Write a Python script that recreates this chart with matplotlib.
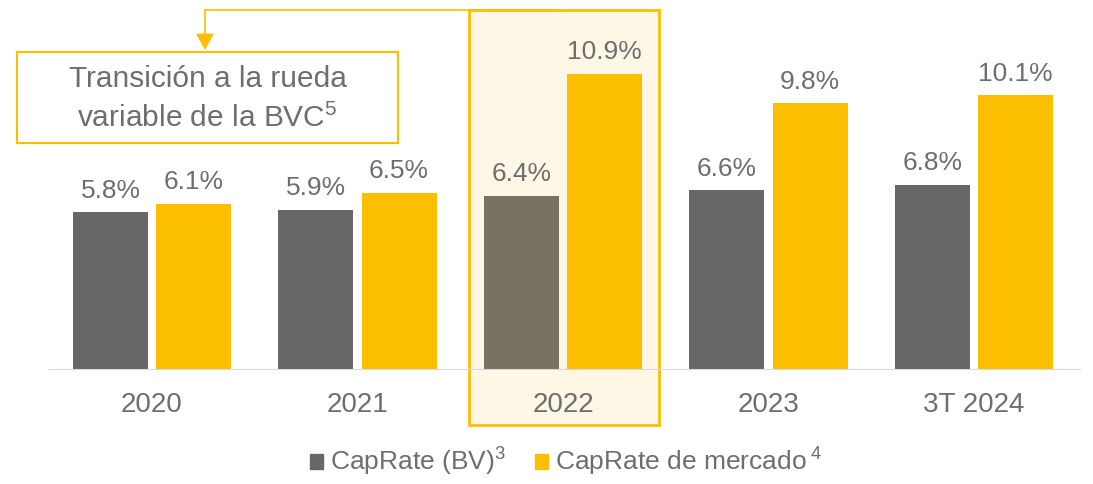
import numpy as np
import matplotlib
matplotlib.use('Agg')
import matplotlib.pyplot as plt
from matplotlib.patches import Rectangle, Patch

plt.rcParams['font.family'] = ['Liberation Sans', 'DejaVu Sans']
plt.rcParams['mathtext.fontset'] = 'custom'
plt.rcParams['mathtext.rm'] = 'Liberation Sans'
plt.rcParams['mathtext.default'] = 'regular'

# data
periods = ['2020', '2021', '2022', '2023', '3T 2024']
cap_bv = [5.8, 5.9, 6.4, 6.6, 6.8]
cap_market = [6.1, 6.5, 10.9, 9.8, 10.1]
highlight = 2  # 2022

GRAY = '#676767'
GRAY_HL = '#787260'
YELLOW = '#FBBE00'
TXT = '#6e6e6e'

fig = plt.figure(figsize=(10.93, 4.84), dpi=100)
ax = fig.add_axes([0, 114/484, 1, 370/484])
ax.set_xlim(-152/205.5, -152/205.5 + 1093/205.5)
ax.set_ylim(0, 370/27.2)

x = np.arange(len(periods))
w = 0.365
off = 0.202
gray_cols = [GRAY_HL if i == highlight else GRAY for i in x]
b1 = ax.bar(x - off, cap_bv, w, color=gray_cols, zorder=3)
b2 = ax.bar(x + off, cap_market, w, color=YELLOW, zorder=3)

for bars, vals in ((b1, cap_bv), (b2, cap_market)):
    for r, v in zip(bars, vals):
        ax.annotate(f'{v:.1f}%', (r.get_x() + r.get_width()/2, v),
                    xytext=(0, 7), textcoords='offset points',
                    ha='center', va='bottom', fontsize=19, color=TXT)

# highlight box around 2022
ax.add_patch(Rectangle((highlight - 0.457, (370-425)/27.2), 0.924, (425-10)/27.2,
                       facecolor='#FEF7E6', edgecolor=YELLOW, lw=2,
                       clip_on=False, zorder=1))

# connector with arrow to the note
yl = (370-10)/27.2
xa = (205-152)/205.5
ax.plot([highlight, xa], [yl, yl], color=YELLOW, lw=1.2, clip_on=False, zorder=4)
ax.annotate('', xy=(xa, (370-50)/27.2), xytext=(xa, yl),
            arrowprops=dict(arrowstyle='-|>,head_length=1.0,head_width=0.55',
                            color=YELLOW, lw=1.2, shrinkA=0, shrinkB=0),
            annotation_clip=False)

# note box
x0 = (17-152)/205.5
x1 = (398-152)/205.5
y0 = (370-143)/27.2
y1 = (370-52)/27.2
ax.add_patch(Rectangle((x0, y0), x1 - x0, y1 - y0, facecolor='white',
                       edgecolor=YELLOW, lw=1.5, clip_on=False, zorder=4))
ax.text((x0 + x1)/2, (y0 + y1)/2 - 0.05, 'Transición a la rueda\nvariable de la BVC$^5$',
        ha='center', va='center', fontsize=21.5, color=TXT, linespacing=1.45, zorder=5)

ax.axhline(0, xmin=50/1093, xmax=1080/1093, color='#d9d9d9', lw=1.5, zorder=4)

ax.set_xticks(x)
ax.set_xticklabels(periods, fontsize=20, color=TXT)
ax.tick_params(axis='x', length=0, pad=16)
ax.set_yticks([])
for s in ax.spines.values():
    s.set_visible(False)
ax.patch.set_alpha(0)

handles = [Patch(color=GRAY), Patch(color=YELLOW)]
leg = fig.legend(handles, ['CapRate (BV)$^3$', 'CapRate de mercado$\\,^4$'],
                 loc='center', bbox_to_anchor=(566/1093, 22/484), ncol=2,
                 frameon=False, fontsize=19, handlelength=0.5, handleheight=0.5,
                 handletextpad=0.25, columnspacing=1.1, labelcolor=TXT)

fig.savefig('out.png', dpi=100)
